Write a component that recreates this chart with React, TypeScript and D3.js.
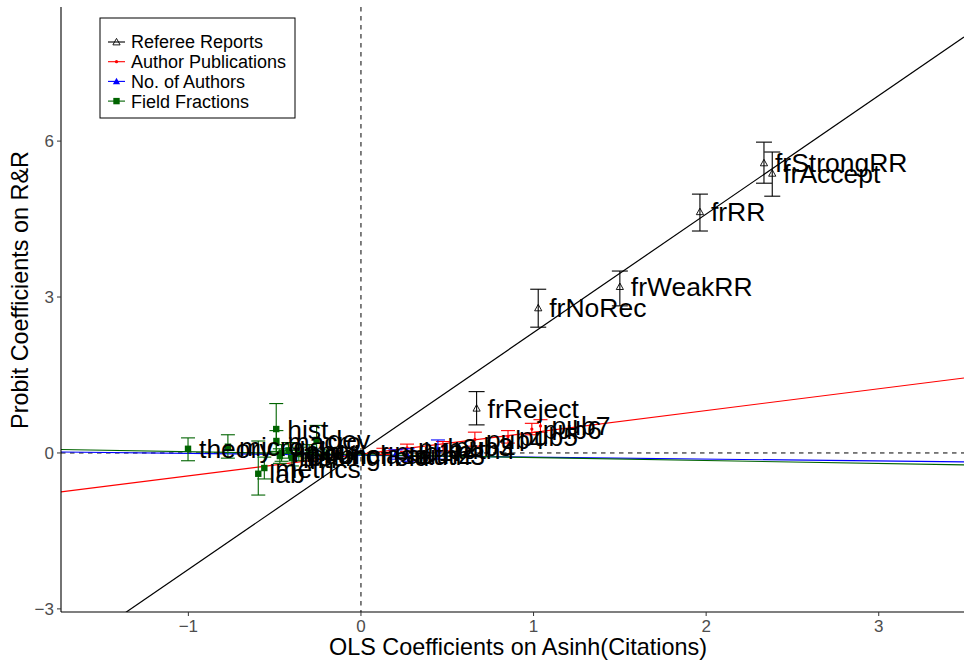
import React from "react";
import * as d3 from "d3";

// Referee-report fractions
const refLabels = ["frReject", "frNoRec", "frWeakRR", "frRR", "frStrongRR", "frAccept"];
const refX = [0.67, 1.027, 1.5, 1.964, 2.335, 2.383];
const refY = [0.86, 2.79, 3.2, 4.64, 5.58, 5.38];
const refLo = [0.54, 2.42, 2.83, 4.27, 5.19, 4.94];
const refHi = [1.18, 3.15, 3.5, 4.98, 5.98, 5.79];

// Author publications
const pubLabels = ["pub1", "pub2", "pub3", "pub4", "pub5", "pub6", "pub7"];
const pubX = [0.13, 0.267, 0.475, 0.66, 0.852, 0.99, 1.04];
const pubY = [0.03, 0.1, 0.13, 0.26, 0.31, 0.46, 0.52];
const pubLo = [-0.03, 0.03, 0.04, 0.13, 0.19, 0.35, 0.4];
const pubHi = [0.09, 0.17, 0.22, 0.4, 0.43, 0.57, 0.64];

// Number of authors
const authLabels = ["auth2", "auth3", "auth4"];
const authX = [0.2, 0.27, 0.446];
const authY = [-0.03, -0.05, 0.06];
const authLo = [-0.12, -0.16, -0.12];
const authHi = [0.06, 0.08, 0.25];

// Field fractions
const fieldLabels = [
  "theory", "micro", "hist", "lab", "dev", "macro", "metrics",
  "missingfield", "labor", "public", "io", "fin", "intl", "unclass",
];
const fieldX = [-1.002, -0.771, -0.491, -0.595, -0.257, -0.49, -0.56, -0.47, -0.42, -0.36, -0.3, -0.46, -0.4, -0.2];
const fieldY = [0.08, 0.12, 0.46, -0.4, 0.25, 0.23, -0.29, -0.06, 0.05, -0.02, 0.03, 0.0, -0.1, -0.03];
const fieldLo = [-0.15, -0.1, -0.03, -0.81, -0.03, 0.03, -0.5, -0.2, -0.1, -0.15, -0.1, -0.16, -0.25, -0.12];
const fieldHi = [0.29, 0.35, 0.95, 0.23, 0.53, 0.43, -0.08, 0.08, 0.2, 0.11, 0.16, 0.16, 0.05, 0.06];

// Fitted lines: [intercept, slope]
const refFit = [0.038, 2.279];
const pubFit = [-0.022, 0.419];
const authFit = [-0.045, -0.0367];
const fieldFit = [-0.032, -0.0568];

const xTicks = [-1, 0, 1, 2, 3];
const yTicks = [-3, 0, 3, 6];

const W = 964;
const H = 661;
const M = { left: 61, right: 964, top: 7, bottom: 612 };
const FONT = "'Liberation Sans', Arial, Helvetica, sans-serif";

type Pt = { label: string; x: number; y: number; lo: number; hi: number };

function zip(l: string[], x: number[], y: number[], lo: number[], hi: number[]): Pt[] {
  return l.map((label, i) => ({ label, x: x[i], y: y[i], lo: lo[i], hi: hi[i] }));
}

const series = [
  { name: "Referee Reports", color: "#000000", shape: "openTri", cap: 16, fit: refFit, pts: zip(refLabels, refX, refY, refLo, refHi) },
  { name: "Author Publications", color: "#FF0000", shape: "dot", cap: 14, fit: pubFit, pts: zip(pubLabels, pubX, pubY, pubLo, pubHi) },
  { name: "No. of Authors", color: "#0000FF", shape: "tri", cap: 14, fit: authFit, pts: zip(authLabels, authX, authY, authLo, authHi) },
  { name: "Field Fractions", color: "#006400", shape: "square", cap: 14, fit: fieldFit, pts: zip(fieldLabels, fieldX, fieldY, fieldLo, fieldHi) },
];

const fmt = (v: number) => (v < 0 ? "\u2212" + Math.abs(v) : String(v));

function Marker({ shape, color, cx, cy }: { shape: string; color: string; cx: number; cy: number }) {
  if (shape === "openTri") {
    const s = 3.6;
    return <path d={`M${cx},${cy - s}L${cx + s},${cy + s * 0.8}L${cx - s},${cy + s * 0.8}Z`} fill="none" stroke={color} strokeWidth={0.9} />;
  }
  if (shape === "tri") {
    const s = 3.6;
    return <path d={`M${cx},${cy - s}L${cx + s},${cy + s * 0.8}L${cx - s},${cy + s * 0.8}Z`} fill={color} />;
  }
  if (shape === "square") {
    return <rect x={cx - 3.2} y={cy - 3.2} width={6.4} height={6.4} fill={color} />;
  }
  return <circle cx={cx} cy={cy} r={1.6} fill={color} />;
}

export default function App() {
  const x = d3.scaleLinear().domain([-1.738, 3.494]).range([M.left, M.right]);
  const y = d3.scaleLinear().domain([-3.06, 8.58]).range([M.bottom, M.top]);
  const [x0, x1] = x.domain();

  return (
    <svg width={W} height={H} style={{ position: "absolute", left: 0, top: 0, background: "#fff" }} fontFamily={FONT}>
      <defs>
        <clipPath id="panel">
          <rect x={M.left} y={M.top} width={M.right - M.left} height={M.bottom - M.top} />
        </clipPath>
      </defs>

      <g clipPath="url(#panel)">
        {/* reference lines */}
        <line x1={x(0)} x2={x(0)} y1={M.top} y2={M.bottom} stroke="#000" strokeDasharray="4.5,4.5" strokeWidth={1} />
        <line x1={M.left} x2={M.right} y1={y(0)} y2={y(0)} stroke="#000" strokeDasharray="4.5,4.5" strokeWidth={1} />

        {/* fitted lines */}
        {series.map((s) => (
          <line
            key={s.name + "fit"}
            x1={x(x0)}
            y1={y(s.fit[0] + s.fit[1] * x0)}
            x2={x(x1)}
            y2={y(s.fit[0] + s.fit[1] * x1)}
            stroke={s.color}
            strokeWidth={1.2}
          />
        ))}

        {/* error bars and points */}
        {series.map((s) => (
          <g key={s.name + "pts"}>
            {s.pts.map((p) => {
              const cx = x(p.x);
              return (
                <g key={p.label}>
                  <line x1={cx} x2={cx} y1={y(p.lo)} y2={y(p.hi)} stroke={s.color} strokeWidth={1.1} />
                  <line x1={cx - s.cap / 2} x2={cx + s.cap / 2} y1={y(p.lo)} y2={y(p.lo)} stroke={s.color} strokeWidth={1.1} />
                  <line x1={cx - s.cap / 2} x2={cx + s.cap / 2} y1={y(p.hi)} y2={y(p.hi)} stroke={s.color} strokeWidth={1.1} />
                  <Marker shape={s.shape} color={s.color} cx={cx} cy={y(p.y)} />
                </g>
              );
            })}
          </g>
        ))}

        {/* point labels */}
        {series.map((s) => (
          <g key={s.name + "lab"}>
            {s.pts.map((p) => (
              <text key={p.label} x={x(p.x) + 11} y={y(p.y)} dy="0.36em" fontSize={26.5} fill="#000">
                {p.label}
              </text>
            ))}
          </g>
        ))}
      </g>

      {/* axes */}
      <line x1={M.left} x2={M.left} y1={M.top} y2={M.bottom} stroke="#000" strokeWidth={1.1} />
      <line x1={M.left} x2={M.right} y1={M.bottom} y2={M.bottom} stroke="#000" strokeWidth={1.1} />
      {xTicks.map((t) => (
        <g key={"xt" + t}>
          <line x1={x(t)} x2={x(t)} y1={M.bottom} y2={M.bottom + 4} stroke="#333" />
          <text x={x(t)} y={M.bottom + 20} textAnchor="middle" fontSize={17} fill="#4D4D4D">
            {fmt(t)}
          </text>
        </g>
      ))}
      {yTicks.map((t) => (
        <g key={"yt" + t}>
          <line x1={M.left - 4} x2={M.left} y1={y(t)} y2={y(t)} stroke="#333" />
          <text x={M.left - 7} y={y(t)} dy="0.36em" textAnchor="end" fontSize={17} fill="#4D4D4D">
            {fmt(t)}
          </text>
        </g>
      ))}

      <text x={518} y={655} textAnchor="middle" fontSize={23.4} fill="#000">
        OLS Coefficients on Asinh(Citations)
      </text>
      <text transform={`translate(28,${290}) rotate(-90)`} textAnchor="middle" fontSize={23.4} fill="#000">
        Probit Coefficients on R&amp;R
      </text>

      {/* legend */}
      <g>
        <rect x={100} y={18} width={195} height={100} fill="#fff" stroke="#000" strokeWidth={1} />
        {series.map((s, i) => {
          const cy = 42 + i * 19.7;
          return (
            <g key={s.name + "leg"}>
              <line x1={108} x2={125} y1={cy} y2={cy} stroke={s.color} strokeWidth={1.1} />
              <Marker shape={s.shape} color={s.color} cx={116.5} cy={cy} />
              <text x={131} y={cy} dy="0.36em" fontSize={18} fill="#000">
                {s.name}
              </text>
            </g>
          );
        })}
      </g>
    </svg>
  );
}
